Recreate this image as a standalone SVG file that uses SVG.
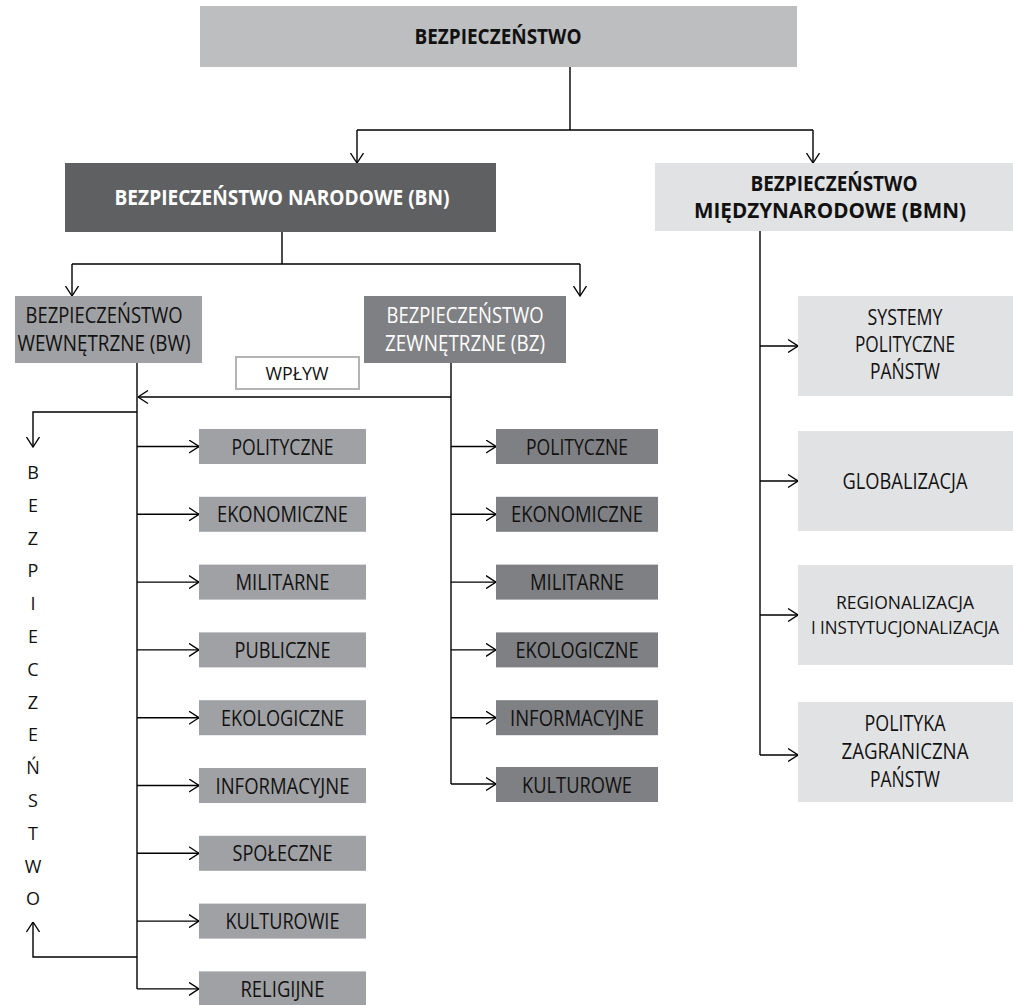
<svg xmlns="http://www.w3.org/2000/svg" width="1013" height="1005" viewBox="0 0 1013 1005">
<defs>
<marker id="ah" viewBox="0 0 11 14" refX="10.5" refY="7" markerWidth="11" markerHeight="14" orient="auto" markerUnits="userSpaceOnUse">
<path d="M0.5,0.5 L10.5,7 L0.5,13.5" fill="none" stroke="#000" stroke-width="1.3"/>
</marker>
</defs>
<style>
text{font-family:"Open Sans","DejaVu Sans",sans-serif;text-anchor:middle;fill:#111}
.b{font-weight:700;font-size:22px}
.b2{font-weight:700;font-size:21px}
.n{font-size:22px}
.m{font-size:21px}
.s{font-size:18px}
.w{fill:#fff}
.c{fill:none;stroke:#000;stroke-width:1.4}
.top{fill:#bdbec0}
.bn{fill:#5f6062}
.lt{fill:#e1e2e3}
.md{fill:#a0a1a4}
.dk{fill:#7f8083}
.vl{font-size:18px}
</style>
<rect width="1013" height="1005" fill="#fff"/>

<g id="connectors">
<path class="c" d="M570,67 V130 M357,130 H813"/>
<path class="c" d="M357,130 V163" marker-end="url(#ah)"/>
<path class="c" d="M813,130 V163" marker-end="url(#ah)"/>
<path class="c" d="M282,232 V264 M72,264 H580"/>
<path class="c" d="M72,264 V296" marker-end="url(#ah)"/>
<path class="c" d="M580,264 V296" marker-end="url(#ah)"/>
<path class="c" d="M137,363 V989"/>
<path class="c" d="M451,363 V784"/>
<path class="c" d="M451,397 H138" marker-end="url(#ah)"/>
<path class="c" d="M137,412 H33 V447" marker-end="url(#ah)"/>
<path class="c" d="M137,957 H33 V922" marker-end="url(#ah)"/>
<path class="c" d="M137,446.5 H199" marker-end="url(#ah)"/>
<path class="c" d="M137,514.3 H199" marker-end="url(#ah)"/>
<path class="c" d="M137,582.1 H199" marker-end="url(#ah)"/>
<path class="c" d="M137,649.9 H199" marker-end="url(#ah)"/>
<path class="c" d="M137,717.7 H199" marker-end="url(#ah)"/>
<path class="c" d="M137,785.5 H199" marker-end="url(#ah)"/>
<path class="c" d="M137,853.3 H199" marker-end="url(#ah)"/>
<path class="c" d="M137,921.1 H199" marker-end="url(#ah)"/>
<path class="c" d="M137,988.9 H199" marker-end="url(#ah)"/>
<path class="c" d="M451,446.5 H496" marker-end="url(#ah)"/>
<path class="c" d="M451,514.3 H496" marker-end="url(#ah)"/>
<path class="c" d="M451,582.1 H496" marker-end="url(#ah)"/>
<path class="c" d="M451,649.9 H496" marker-end="url(#ah)"/>
<path class="c" d="M451,717.7 H496" marker-end="url(#ah)"/>
<path class="c" d="M451,784 H496" marker-end="url(#ah)"/>
<path class="c" d="M760,231 V755"/>
<path class="c" d="M760,346 H798" marker-end="url(#ah)"/>
<path class="c" d="M760,481 H798" marker-end="url(#ah)"/>
<path class="c" d="M760,615 H798" marker-end="url(#ah)"/>
<path class="c" d="M760,755 H798" marker-end="url(#ah)"/>
</g>

<g id="n-top"><rect class="top" x="200" y="6" width="597" height="61"/><text class="b" x="498" y="44" textLength="167" lengthAdjust="spacingAndGlyphs">BEZPIECZEŃSTWO</text></g>
<g id="n-bn"><rect class="bn" x="65" y="163" width="431" height="69"/><text class="b w" x="282" y="205" textLength="335" lengthAdjust="spacingAndGlyphs">BEZPIECZEŃSTWO NARODOWE (BN)</text></g>
<g id="n-bmn"><rect class="lt" x="655" y="163" width="358" height="68"/><text class="b2" x="834" y="191" textLength="167" lengthAdjust="spacingAndGlyphs">BEZPIECZEŃSTWO</text><text class="b2" x="830" y="218" textLength="272" lengthAdjust="spacingAndGlyphs">MIĘDZYNARODOWE (BMN)</text></g>
<g id="n-bw"><rect class="md" x="15" y="296" width="187" height="67"/><text class="m" x="104" y="323" textLength="157" lengthAdjust="spacingAndGlyphs">BEZPIECZEŃSTWO</text><text class="m" x="104" y="351" textLength="173" lengthAdjust="spacingAndGlyphs">WEWNĘTRZNE (BW)</text></g>
<g id="n-bz"><rect class="dk" x="364" y="296" width="202" height="67"/><text class="m w" x="465" y="323" textLength="157" lengthAdjust="spacingAndGlyphs">BEZPIECZEŃSTWO</text><text class="m w" x="465" y="351" textLength="160" lengthAdjust="spacingAndGlyphs">ZEWNĘTRZNE (BZ)</text></g>
<g id="n-wplyw"><rect x="236" y="357" width="123" height="32" fill="#fff" stroke="#b3b4b6" stroke-width="2"/><text x="297" y="380" style="font-size:18px" textLength="63" lengthAdjust="spacingAndGlyphs">WPŁYW</text></g>

<g id="n-vertical"><text class="vl" x="33" y="479">B</text><text class="vl" x="33" y="512">E</text><text class="vl" x="33" y="545">Z</text><text class="vl" x="33" y="577">P</text><text class="vl" x="33" y="610">I</text><text class="vl" x="33" y="643">E</text><text class="vl" x="33" y="676">C</text><text class="vl" x="33" y="709">Z</text><text class="vl" x="33" y="741">E</text><text class="vl" x="33" y="774">Ń</text><text class="vl" x="33" y="807">S</text><text class="vl" x="33" y="840">T</text><text class="vl" x="33" y="873">W</text><text class="vl" x="33" y="905">O</text></g>

<g id="n-bw-1"><rect class="md" x="199" y="429" width="167" height="35"/><text class="n" x="282.5" y="454.5" textLength="102" lengthAdjust="spacingAndGlyphs">POLITYCZNE</text></g>
<g id="n-bw-2"><rect class="md" x="199" y="496.8" width="167" height="35"/><text class="n" x="282.5" y="522.3" textLength="131" lengthAdjust="spacingAndGlyphs">EKONOMICZNE</text></g>
<g id="n-bw-3"><rect class="md" x="199" y="564.6" width="167" height="35"/><text class="n" x="282.5" y="590.1" textLength="94" lengthAdjust="spacingAndGlyphs">MILITARNE</text></g>
<g id="n-bw-4"><rect class="md" x="199" y="632.4" width="167" height="35"/><text class="n" x="282.5" y="657.9" textLength="96" lengthAdjust="spacingAndGlyphs">PUBLICZNE</text></g>
<g id="n-bw-5"><rect class="md" x="199" y="700.2" width="167" height="35"/><text class="n" x="282.5" y="725.7" textLength="123" lengthAdjust="spacingAndGlyphs">EKOLOGICZNE</text></g>
<g id="n-bw-6"><rect class="md" x="199" y="768" width="167" height="35"/><text class="n" x="282.5" y="793.5" textLength="134" lengthAdjust="spacingAndGlyphs">INFORMACYJNE</text></g>
<g id="n-bw-7"><rect class="md" x="199" y="835.8" width="167" height="35"/><text class="n" x="282.5" y="861.3" textLength="100" lengthAdjust="spacingAndGlyphs">SPOŁECZNE</text></g>
<g id="n-bw-8"><rect class="md" x="199" y="903.6" width="167" height="35"/><text class="n" x="282.5" y="929.1" textLength="114" lengthAdjust="spacingAndGlyphs">KULTUROWIE</text></g>
<g id="n-bw-9"><rect class="md" x="199" y="971.4" width="167" height="34"/><text class="n" x="282.5" y="996.5" textLength="84" lengthAdjust="spacingAndGlyphs">RELIGIJNE</text></g>

<g id="n-bz-1"><rect class="dk" x="496" y="429" width="162" height="35"/><text class="n" x="577" y="454.5" textLength="102" lengthAdjust="spacingAndGlyphs">POLITYCZNE</text></g>
<g id="n-bz-2"><rect class="dk" x="496" y="496.8" width="162" height="35"/><text class="n" x="577" y="522.3" textLength="132" lengthAdjust="spacingAndGlyphs">EKONOMICZNE</text></g>
<g id="n-bz-3"><rect class="dk" x="496" y="564.6" width="162" height="35"/><text class="n" x="577" y="590.1" textLength="94" lengthAdjust="spacingAndGlyphs">MILITARNE</text></g>
<g id="n-bz-4"><rect class="dk" x="496" y="632.4" width="162" height="35"/><text class="n" x="577" y="657.9" textLength="123" lengthAdjust="spacingAndGlyphs">EKOLOGICZNE</text></g>
<g id="n-bz-5"><rect class="dk" x="496" y="700.2" width="162" height="35"/><text class="n" x="577" y="725.7" textLength="134" lengthAdjust="spacingAndGlyphs">INFORMACYJNE</text></g>
<g id="n-bz-6"><rect class="dk" x="496" y="767" width="162" height="35"/><text class="n" x="577" y="792.5" textLength="110" lengthAdjust="spacingAndGlyphs">KULTUROWE</text></g>

<g id="n-bmn-1"><rect class="lt" x="798" y="296" width="215" height="100"/><text class="m" x="905" y="325" textLength="75" lengthAdjust="spacingAndGlyphs">SYSTEMY</text><text class="m" x="905" y="352" textLength="100" lengthAdjust="spacingAndGlyphs">POLITYCZNE</text><text class="m" x="905" y="379" textLength="70" lengthAdjust="spacingAndGlyphs">PAŃSTW</text></g>
<g id="n-bmn-2"><rect class="lt" x="798" y="431" width="215" height="100"/><text class="n" x="905" y="489" textLength="125" lengthAdjust="spacingAndGlyphs">GLOBALIZACJA</text></g>
<g id="n-bmn-3"><rect class="lt" x="798" y="565" width="215" height="100"/><text class="s" x="905" y="609" textLength="138" lengthAdjust="spacingAndGlyphs">REGIONALIZACJA</text><text class="s" x="905" y="634" textLength="188" lengthAdjust="spacingAndGlyphs">I INSTYTUCJONALIZACJA</text></g>
<g id="n-bmn-4"><rect class="lt" x="798" y="702" width="215" height="100"/><text class="m" x="905" y="731" textLength="81" lengthAdjust="spacingAndGlyphs">POLITYKA</text><text class="m" x="905" y="759" textLength="127" lengthAdjust="spacingAndGlyphs">ZAGRANICZNA</text><text class="m" x="905" y="787" textLength="70" lengthAdjust="spacingAndGlyphs">PAŃSTW</text></g>
</svg>
